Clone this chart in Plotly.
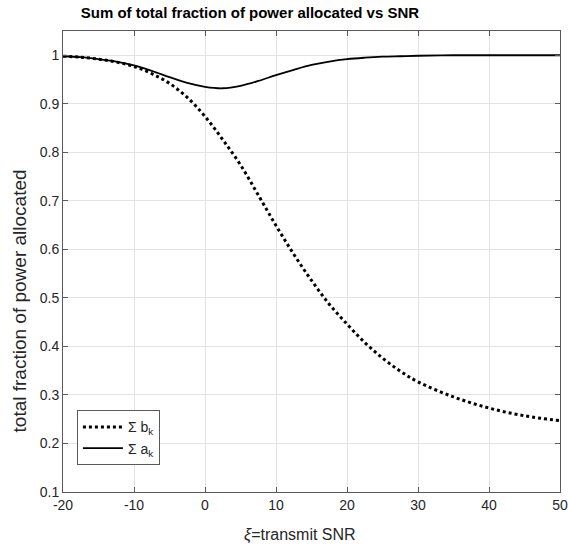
import plotly.graph_objects as go

# --- data ---
snr = [-20, -17.5, -15, -12.5, -10, -7.5, -5, -2.5, 0, 2.5, 5, 7.5, 10,
       12.5, 15, 17.5, 20, 22.5, 25, 27.5, 30, 35, 40, 45, 50]
sum_b = [0.998, 0.996, 0.992, 0.986, 0.977, 0.962, 0.942, 0.913, 0.874,
         0.826, 0.774, 0.712, 0.649, 0.590, 0.536, 0.487, 0.446, 0.408,
         0.376, 0.349, 0.327, 0.296, 0.273, 0.257, 0.247]
sum_a = [0.998, 0.996, 0.992, 0.987, 0.979, 0.968, 0.955, 0.943, 0.935,
         0.932, 0.937, 0.947, 0.959, 0.970, 0.980, 0.987, 0.992, 0.995,
         0.997, 0.998, 0.999, 1.0, 1.0, 1.0, 1.0]

x_ticks = [-20, -10, 0, 10, 20, 30, 40, 50]
x_labels = ['-20', '-10', '0', '10', '20', '30', '40', '50']
y_ticks = [0.1, 0.2, 0.3, 0.4, 0.5, 0.6, 0.7, 0.8, 0.9, 1.0]
y_labels = ['0.1', '0.2', '0.3', '0.4', '0.5', '0.6', '0.7', '0.8', '0.9', '1']

fig = go.Figure()

fig.add_trace(go.Scatter(
    x=snr, y=sum_b, name='Σ b<sub>k</sub>', mode='lines',
    line=dict(color='black', width=3, dash='dot', shape='spline')
))
fig.add_trace(go.Scatter(
    x=snr, y=sum_a, name='Σ a<sub>k</sub>', mode='lines',
    line=dict(color='black', width=1.8, shape='spline')
))

axis_style = dict(
    showline=True, linecolor='#5a5a5a', linewidth=1, mirror='ticks',
    ticks='inside', ticklen=5, tickcolor='#5a5a5a',
    showgrid=True, gridcolor='#e3e3e3', gridwidth=1, zeroline=False,
    tickfont=dict(size=14, color='#262626'), automargin=False,
)

fig.update_xaxes(range=[-20, 50], tickvals=x_ticks, ticktext=x_labels, **axis_style)
fig.update_yaxes(range=[0.1, 1.05], tickvals=y_ticks, ticktext=y_labels, **axis_style)

# axis titles placed as annotations (the reference has them off-centre)
fig.add_annotation(
    text='<i>ξ</i>=transmit SNR', xref='paper', yref='paper',
    x=0.477, y=-0.093, xanchor='center', yanchor='middle', showarrow=False,
    font=dict(size=16, color='#262626')
)
fig.add_annotation(
    text='total fraction of power allocated', xref='paper', yref='paper',
    x=-0.087, y=0.415, xanchor='center', yanchor='middle', showarrow=False,
    textangle=-90, font=dict(size=19, color='#262626')
)

fig.update_layout(
    width=568, height=545,
    margin=dict(l=63, r=8, t=31, b=53),
    paper_bgcolor='white', plot_bgcolor='white',
    font=dict(family='Liberation Sans, Arial, sans-serif', color='#262626'),
    title=dict(text='<b>Sum of total fraction of power allocated vs SNR</b>',
               x=0.44, xanchor='center', y=0.976, yanchor='middle',
               font=dict(size=15, color='black')),
    legend=dict(x=0.028, y=0.177, xanchor='left', yanchor='top',
                bgcolor='white', bordercolor='#5a5a5a', borderwidth=1,
                font=dict(size=14, color='#262626'),
                tracegroupgap=0, itemwidth=40),
    showlegend=True,
)

fig.write_html("out.html", config={'displayModeBar': False},
               post_script="document.body.style.margin='0';")
